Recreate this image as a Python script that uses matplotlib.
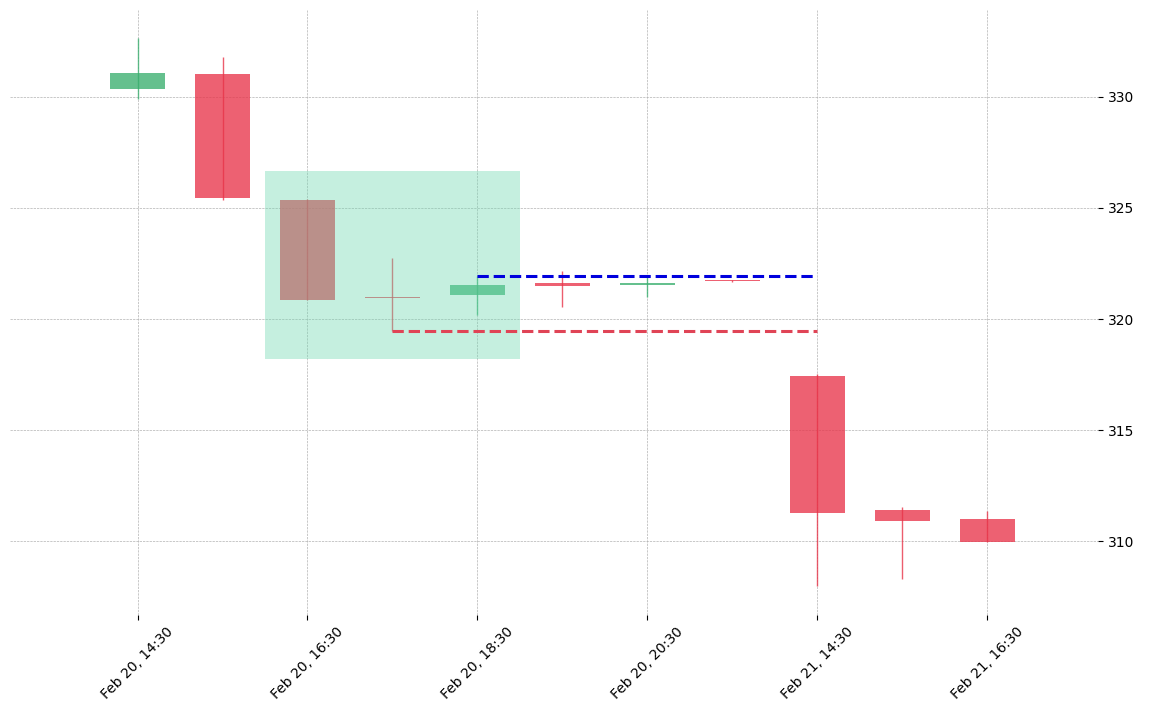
import matplotlib
matplotlib.use("Agg")
import matplotlib.pyplot as plt
import numpy as np

labels = ["Feb 20, 14:30", "Feb 20, 15:30", "Feb 20, 16:30", "Feb 20, 17:30", "Feb 20, 18:30",
          "Feb 20, 19:30", "Feb 20, 20:30", "Feb 20, 21:30", "Feb 21, 14:30", "Feb 21, 15:30",
          "Feb 21, 16:30"]
opens = [330.36, 331.03, 325.37, 321.0, 321.1, 321.6, 321.52, 321.73, 317.42, 311.4, 311.03]
closes = [331.08, 325.46, 320.88, 320.95, 321.55, 321.5, 321.6, 321.7, 311.3, 310.94, 309.96]
highs = [332.65, 331.8, 325.4, 322.76, 321.95, 322.18, 321.95, 321.75, 317.55, 311.53, 311.35]
lows = [329.9, 325.37, 320.88, 319.48, 320.2, 320.56, 320.97, 321.68, 308.0, 308.3, 309.96]

zone = (1.5, 4.5, 318.22, 326.67)
resistance = (4, 8, 321.95)
support = (3, 8, 319.48)

GREEN = "#3aaf6f"
RED = "#e8354a"

fig = plt.figure(figsize=(11.66, 7.1), dpi=100)
ax = fig.add_axes([0.0086, 0.134, 0.933, 0.852])

# zone painted over the candles it covers (gives the brownish tint)
ax.add_patch(plt.Rectangle((zone[0], zone[2]), zone[1] - zone[0], zone[3] - zone[2],
                           color="#6fd8b0", alpha=0.4, zorder=3.5, lw=0))

x = np.arange(len(opens))
for i in x:
    o, c, h, l = opens[i], closes[i], highs[i], lows[i]
    col = GREEN if c >= o else RED
    ax.vlines(i, l, h, color=col, lw=1, alpha=0.8, zorder=2)
    body = max(abs(c - o), 0.06)
    ax.add_patch(plt.Rectangle((i - 0.325, min(o, c)), 0.65, body, color=col,
                               alpha=0.78, lw=0, zorder=3))

ax.hlines(resistance[2], resistance[0], resistance[1], colors="#0000dd", linestyles="--", lw=2.2, zorder=4)
ax.hlines(support[2], support[0], support[1], colors="#e04456", linestyles="--", lw=2.2, zorder=4)

ax.set_xlim(-1.5, 11.3)
ax.set_ylim(306.7, 333.9)
ax.set_xticks(x[::2])
ax.set_xticklabels(labels[::2], rotation=45, fontsize=10)
ax.set_yticks([310, 315, 320, 325, 330])
ax.yaxis.tick_right()
ax.tick_params(axis="y", labelsize=10)
ax.grid(True, color="#aaaaaa", ls="--", lw=0.45)
ax.set_axisbelow(True)
for s in ax.spines.values():
    s.set_visible(False)

fig.savefig("out.png", dpi=100, facecolor="white")
